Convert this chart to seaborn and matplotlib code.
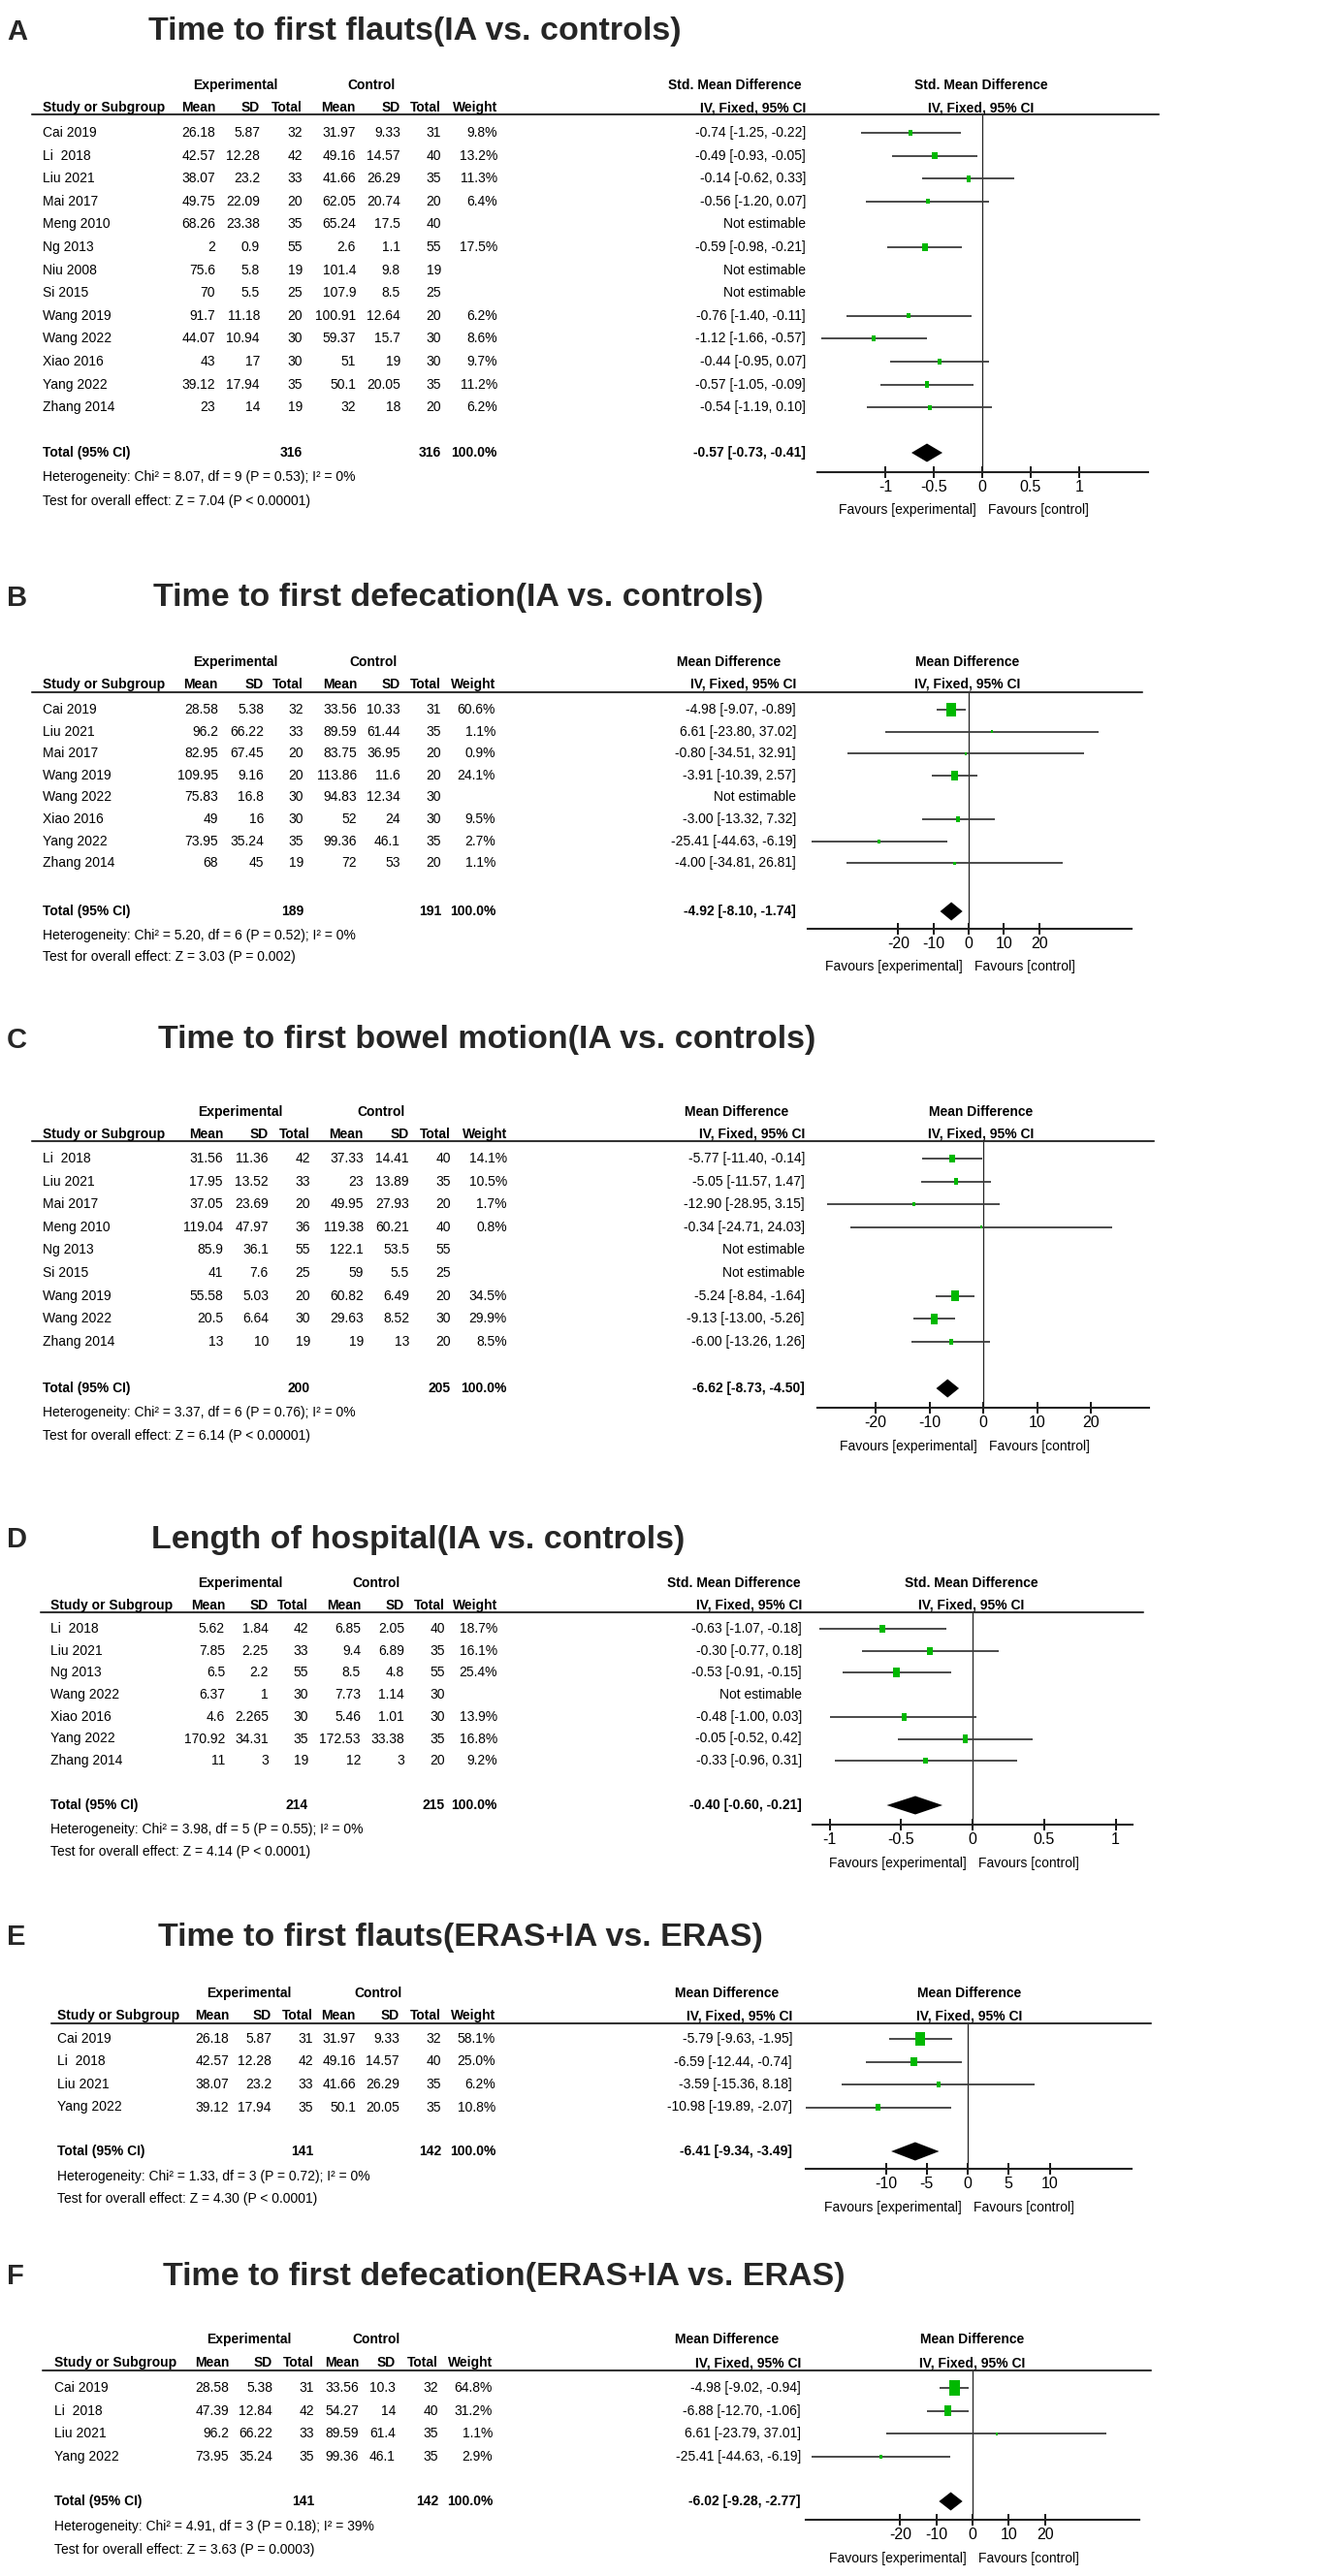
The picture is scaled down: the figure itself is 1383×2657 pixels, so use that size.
import numpy as np
import pandas as pd
import matplotlib
matplotlib.use('Agg')
import matplotlib.pyplot as plt
import matplotlib.transforms as mtransforms
from matplotlib import font_manager
import seaborn as sns

W, H = 1383, 2657

# ---------------- data ----------------
# A: Time to first flauts (IA vs. controls)
studies_a = ['Cai 2019', 'Li  2018', 'Liu 2021', 'Mai 2017', 'Meng 2010', 'Ng 2013', 'Niu 2008',
             'Si 2015', 'Wang 2019', 'Wang 2022', 'Xiao 2016', 'Yang 2022', 'Zhang 2014']
exp_mean_a = [26.18, 42.57, 38.07, 49.75, 68.26, 2, 75.6, 70, 91.7, 44.07, 43, 39.12, 23]
exp_sd_a = [5.87, 12.28, 23.2, 22.09, 23.38, 0.9, 5.8, 5.5, 11.18, 10.94, 17, 17.94, 14]
exp_n_a = [32, 42, 33, 20, 35, 55, 19, 25, 20, 30, 30, 35, 19]
ctl_mean_a = [31.97, 49.16, 41.66, 62.05, 65.24, 2.6, 101.4, 107.9, 100.91, 59.37, 51, 50.1, 32]
ctl_sd_a = [9.33, 14.57, 26.29, 20.74, 17.5, 1.1, 9.8, 8.5, 12.64, 15.7, 19, 20.05, 18]
ctl_n_a = [31, 40, 35, 20, 40, 55, 19, 25, 20, 30, 30, 35, 20]
weight_a = [9.8, 13.2, 11.3, 6.4, None, 17.5, None, None, 6.2, 8.6, 9.7, 11.2, 6.2]
est_a = [-0.74, -0.49, -0.14, -0.56, None, -0.59, None, None, -0.76, -1.12, -0.44, -0.57, -0.54]
lo_a = [-1.25, -0.93, -0.62, -1.20, None, -0.98, None, None, -1.40, -1.66, -0.95, -1.05, -1.19]
hi_a = [-0.22, -0.05, 0.33, 0.07, None, -0.21, None, None, -0.11, -0.57, 0.07, -0.09, 0.10]
total_a = (316, 316, -0.57, -0.73, -0.41)
het_a = 'Heterogeneity: Chi² = 8.07, df = 9 (P = 0.53); I² = 0%'
test_a = 'Test for overall effect: Z = 7.04 (P < 0.00001)'
ticks_a = [-1, -0.5, 0, 0.5, 1]
ticklabels_a = ['-1', '-0.5', '0', '0.5', '1']

# B: Time to first defecation (IA vs. controls)
studies_b = ['Cai 2019', 'Liu 2021', 'Mai 2017', 'Wang 2019', 'Wang 2022', 'Xiao 2016', 'Yang 2022', 'Zhang 2014']
exp_mean_b = [28.58, 96.2, 82.95, 109.95, 75.83, 49, 73.95, 68]
exp_sd_b = [5.38, 66.22, 67.45, 9.16, 16.8, 16, 35.24, 45]
exp_n_b = [32, 33, 20, 20, 30, 30, 35, 19]
ctl_mean_b = [33.56, 89.59, 83.75, 113.86, 94.83, 52, 99.36, 72]
ctl_sd_b = [10.33, 61.44, 36.95, 11.6, 12.34, 24, 46.1, 53]
ctl_n_b = [31, 35, 20, 20, 30, 30, 35, 20]
weight_b = [60.6, 1.1, 0.9, 24.1, None, 9.5, 2.7, 1.1]
est_b = [-4.98, 6.61, -0.80, -3.91, None, -3.00, -25.41, -4.00]
lo_b = [-9.07, -23.80, -34.51, -10.39, None, -13.32, -44.63, -34.81]
hi_b = [-0.89, 37.02, 32.91, 2.57, None, 7.32, -6.19, 26.81]
total_b = (189, 191, -4.92, -8.10, -1.74)
het_b = 'Heterogeneity: Chi² = 5.20, df = 6 (P = 0.52); I² = 0%'
test_b = 'Test for overall effect: Z = 3.03 (P = 0.002)'
ticks_b = [-20, -10, 0, 10, 20]
ticklabels_b = ['-20', '-10', '0', '10', '20']

# C: Time to first bowel motion (IA vs. controls)
studies_c = ['Li  2018', 'Liu 2021', 'Mai 2017', 'Meng 2010', 'Ng 2013', 'Si 2015', 'Wang 2019', 'Wang 2022', 'Zhang 2014']
exp_mean_c = [31.56, 17.95, 37.05, 119.04, 85.9, 41, 55.58, 20.5, 13]
exp_sd_c = [11.36, 13.52, 23.69, 47.97, 36.1, 7.6, 5.03, 6.64, 10]
exp_n_c = [42, 33, 20, 36, 55, 25, 20, 30, 19]
ctl_mean_c = [37.33, 23, 49.95, 119.38, 122.1, 59, 60.82, 29.63, 19]
ctl_sd_c = [14.41, 13.89, 27.93, 60.21, 53.5, 5.5, 6.49, 8.52, 13]
ctl_n_c = [40, 35, 20, 40, 55, 25, 20, 30, 20]
weight_c = [14.1, 10.5, 1.7, 0.8, None, None, 34.5, 29.9, 8.5]
est_c = [-5.77, -5.05, -12.90, -0.34, None, None, -5.24, -9.13, -6.00]
lo_c = [-11.40, -11.57, -28.95, -24.71, None, None, -8.84, -13.00, -13.26]
hi_c = [-0.14, 1.47, 3.15, 24.03, None, None, -1.64, -5.26, 1.26]
total_c = (200, 205, -6.62, -8.73, -4.50)
het_c = 'Heterogeneity: Chi² = 3.37, df = 6 (P = 0.76); I² = 0%'
test_c = 'Test for overall effect: Z = 6.14 (P < 0.00001)'
ticks_c = [-20, -10, 0, 10, 20]
ticklabels_c = ['-20', '-10', '0', '10', '20']

# D: Length of hospital (IA vs. controls)
studies_d = ['Li  2018', 'Liu 2021', 'Ng 2013', 'Wang 2022', 'Xiao 2016', 'Yang 2022', 'Zhang 2014']
exp_mean_d = [5.62, 7.85, 6.5, 6.37, 4.6, 170.92, 11]
exp_sd_d = [1.84, 2.25, 2.2, 1, 2.265, 34.31, 3]
exp_n_d = [42, 33, 55, 30, 30, 35, 19]
ctl_mean_d = [6.85, 9.4, 8.5, 7.73, 5.46, 172.53, 12]
ctl_sd_d = [2.05, 6.89, 4.8, 1.14, 1.01, 33.38, 3]
ctl_n_d = [40, 35, 55, 30, 30, 35, 20]
weight_d = [18.7, 16.1, 25.4, None, 13.9, 16.8, 9.2]
est_d = [-0.63, -0.30, -0.53, None, -0.48, -0.05, -0.33]
lo_d = [-1.07, -0.77, -0.91, None, -1.00, -0.52, -0.96]
hi_d = [-0.18, 0.18, -0.15, None, 0.03, 0.42, 0.31]
total_d = (214, 215, -0.40, -0.60, -0.21)
het_d = 'Heterogeneity: Chi² = 3.98, df = 5 (P = 0.55); I² = 0%'
test_d = 'Test for overall effect: Z = 4.14 (P < 0.0001)'
ticks_d = [-1, -0.5, 0, 0.5, 1]
ticklabels_d = ['-1', '-0.5', '0', '0.5', '1']

# E: Time to first flauts (ERAS+IA vs. ERAS)
studies_e = ['Cai 2019', 'Li  2018', 'Liu 2021', 'Yang 2022']
exp_mean_e = [26.18, 42.57, 38.07, 39.12]
exp_sd_e = [5.87, 12.28, 23.2, 17.94]
exp_n_e = [31, 42, 33, 35]
ctl_mean_e = [31.97, 49.16, 41.66, 50.1]
ctl_sd_e = [9.33, 14.57, 26.29, 20.05]
ctl_n_e = [32, 40, 35, 35]
weight_e = [58.1, 25.0, 6.2, 10.8]
est_e = [-5.79, -6.59, -3.59, -10.98]
lo_e = [-9.63, -12.44, -15.36, -19.89]
hi_e = [-1.95, -0.74, 8.18, -2.07]
total_e = (141, 142, -6.41, -9.34, -3.49)
het_e = 'Heterogeneity: Chi² = 1.33, df = 3 (P = 0.72); I² = 0%'
test_e = 'Test for overall effect: Z = 4.30 (P < 0.0001)'
ticks_e = [-10, -5, 0, 5, 10]
ticklabels_e = ['-10', '-5', '0', '5', '10']

# F: Time to first defecation (ERAS+IA vs. ERAS)
studies_f = ['Cai 2019', 'Li  2018', 'Liu 2021', 'Yang 2022']
exp_mean_f = [28.58, 47.39, 96.2, 73.95]
exp_sd_f = [5.38, 12.84, 66.22, 35.24]
exp_n_f = [31, 42, 33, 35]
ctl_mean_f = [33.56, 54.27, 89.59, 99.36]
ctl_sd_f = [10.3, 14, 61.4, 46.1]
ctl_n_f = [32, 40, 35, 35]
weight_f = [64.8, 31.2, 1.1, 2.9]
est_f = [-4.98, -6.88, 6.61, -25.41]
lo_f = [-9.02, -12.70, -23.79, -44.63]
hi_f = [-0.94, -1.06, 37.01, -6.19]
total_f = (141, 142, -6.02, -9.28, -2.77)
het_f = 'Heterogeneity: Chi² = 4.91, df = 3 (P = 0.18); I² = 39%'
test_f = 'Test for overall effect: Z = 3.63 (P = 0.0003)'
ticks_f = [-20, -10, 0, 10, 20]
ticklabels_f = ['-20', '-10', '0', '10', '20']

panels = [
    ('A', 'Time to first flauts(IA vs. controls)', 'Std. Mean Difference',
     studies_a, exp_mean_a, exp_sd_a, exp_n_a, ctl_mean_a, ctl_sd_a, ctl_n_a,
     weight_a, est_a, lo_a, hi_a, total_a, het_a, test_a, ticks_a, ticklabels_a),
    ('B', 'Time to first defecation(IA vs. controls)', 'Mean Difference',
     studies_b, exp_mean_b, exp_sd_b, exp_n_b, ctl_mean_b, ctl_sd_b, ctl_n_b,
     weight_b, est_b, lo_b, hi_b, total_b, het_b, test_b, ticks_b, ticklabels_b),
    ('C', 'Time to first bowel motion(IA vs. controls)', 'Mean Difference',
     studies_c, exp_mean_c, exp_sd_c, exp_n_c, ctl_mean_c, ctl_sd_c, ctl_n_c,
     weight_c, est_c, lo_c, hi_c, total_c, het_c, test_c, ticks_c, ticklabels_c),
    ('D', 'Length of hospital(IA vs. controls)', 'Std. Mean Difference',
     studies_d, exp_mean_d, exp_sd_d, exp_n_d, ctl_mean_d, ctl_sd_d, ctl_n_d,
     weight_d, est_d, lo_d, hi_d, total_d, het_d, test_d, ticks_d, ticklabels_d),
    ('E', 'Time to first flauts(ERAS+IA vs. ERAS)', 'Mean Difference',
     studies_e, exp_mean_e, exp_sd_e, exp_n_e, ctl_mean_e, ctl_sd_e, ctl_n_e,
     weight_e, est_e, lo_e, hi_e, total_e, het_e, test_e, ticks_e, ticklabels_e),
    ('F', 'Time to first defecation(ERAS+IA vs. ERAS)', 'Mean Difference',
     studies_f, exp_mean_f, exp_sd_f, exp_n_f, ctl_mean_f, ctl_sd_f, ctl_n_f,
     weight_f, est_f, lo_f, hi_f, total_f, het_f, test_f, ticks_f, ticklabels_f),
]

# ---------------- layout (pixels) ----------------
layouts = [
    dict(title_x=153, title_y=33, h1=88, h2=111, ul=118, y0=137, pitch=23.6, total=467, het=492, test=517,
         axis=487, fav=526, study_x=44, cols=[222, 268, 312, 367, 413, 455, 513], exp_c=243, ctl_c=383,
         eff_c=758, ci_r=831, plot_c=1012, ul_x=(33, 1195), zero=1013, scale=100, ax_x=(843, 1184)),
    dict(title_x=158, title_y=617, h1=683, h2=706, ul=714, y0=732, pitch=22.6, total=940, het=965, test=987,
         axis=958, fav=997, study_x=44, cols=[225, 272, 313, 368, 413, 455, 511], exp_c=243, ctl_c=385,
         eff_c=752, ci_r=821, plot_c=998, ul_x=(33, 1178), zero=999, scale=3.63, ax_x=(833, 1167)),
    dict(title_x=163, title_y=1073, h1=1147, h2=1170, ul=1177, y0=1195, pitch=23.6, total=1432, het=1457, test=1481,
         axis=1452, fav=1492, study_x=44, cols=[230, 277, 320, 375, 422, 465, 523], exp_c=248, ctl_c=393,
         eff_c=760, ci_r=830, plot_c=1012, ul_x=(33, 1190), zero=1014, scale=5.55, ax_x=(843, 1185)),
    dict(title_x=156, title_y=1588, h1=1633, h2=1656, ul=1663, y0=1680, pitch=22.7, total=1862, het=1887, test=1910,
         axis=1882, fav=1922, study_x=52, cols=[232, 277, 318, 372, 417, 459, 513], exp_c=248, ctl_c=388,
         eff_c=757, ci_r=827, plot_c=1002, ul_x=(42, 1179), zero=1003, scale=147.5, ax_x=(838, 1168)),
    dict(title_x=163, title_y=1998, h1=2056, h2=2079, ul=2087, y0=2103, pitch=23.5, total=2219, het=2245, test=2268,
         axis=2237, fav=2277, study_x=59, cols=[236, 280, 323, 367, 412, 455, 511], exp_c=257, ctl_c=390,
         eff_c=750, ci_r=817, plot_c=1000, ul_x=(53, 1187), zero=998, scale=8.45, ax_x=(831, 1167)),
    dict(title_x=168, title_y=2348, h1=2413, h2=2437, ul=2445, y0=2463, pitch=23.7, total=2580, het=2606, test=2630,
         axis=2599, fav=2639, study_x=56, cols=[236, 281, 324, 370, 408, 452, 508], exp_c=257, ctl_c=388,
         eff_c=750, ci_r=826, plot_c=1003, ul_x=(44, 1187), zero=1003, scale=3.73, ax_x=(831, 1175)),
]

sns.set_theme(style='white')
names = {f.name for f in font_manager.fontManager.ttflist}
if 'Liberation Sans Narrow' in names:
    tfont, tsize = 'Liberation Sans Narrow', 11.5
else:
    tfont, tsize = 'Liberation Sans', 10
plt.rcParams['font.family'] = [tfont, 'DejaVu Sans']
plt.rcParams['axes.unicode_minus'] = False

GREEN = '#00b800'
LINE = '#3c3c3c'
verts = [(-0.7, -1), (0.7, -1), (0.7, 1), (-0.7, 1), (-0.7, -1)]

fig = plt.figure(figsize=(W / 100, H / 100), dpi=100)


def fmt(v):
    return '{:g}'.format(v)


def ci_text(e, l, h):
    return '{:.2f} [{:.2f}, {:.2f}]'.format(e, l, h)


for p, lay in zip(panels, layouts):
    (letter, title, eff_name, studies, em, es, en, cm, cs, cn,
     wt, est, lo, hi, total, het, test, ticks, ticklabels) = p
    y0, pitch = lay['y0'], lay['pitch']

    def row(px):
        return (px - y0) / pitch

    x0, x1 = lay['ax_x']
    ax = fig.add_axes([x0 / W, 1 - lay['axis'] / H, (x1 - x0) / W, (lay['axis'] - lay['ul']) / H])
    tr = mtransforms.blended_transform_factory(fig.transFigure, ax.transData)

    def txt(xpx, y, s, ha='left', bold=False, size=None):
        ax.text(xpx / W, y, s, transform=tr, ha=ha, va='center',
                fontsize=size or tsize, fontweight='bold' if bold else 'normal', color='black')

    # title + letter
    fig.text(7 / W, 1 - lay['title_y'] / H, letter, ha='left', va='center', fontsize=21,
             fontweight='bold', family='Liberation Sans')
    fig.text(lay['title_x'] / W, 1 - lay['title_y'] / H, title, ha='left', va='center', fontsize=24.5,
             fontweight='bold', family='Liberation Sans')

    # headers
    c = lay['cols']
    txt(lay['exp_c'], row(lay['h1']), 'Experimental', 'center', True)
    txt(lay['ctl_c'], row(lay['h1']), 'Control', 'center', True)
    txt(lay['eff_c'], row(lay['h1']), eff_name, 'center', True)
    txt(lay['plot_c'], row(lay['h1']), eff_name, 'center', True)
    h2 = row(lay['h2'])
    txt(lay['study_x'], h2, 'Study or Subgroup', 'left', True)
    for xr, lab in zip(c, ['Mean', 'SD', 'Total', 'Mean', 'SD', 'Total', 'Weight']):
        txt(xr, h2, lab, 'right', True)
    txt(lay['ci_r'], h2, 'IV, Fixed, 95% CI', 'right', True)
    txt(lay['plot_c'], h2, 'IV, Fixed, 95% CI', 'center', True)
    ax.plot([lay['ul_x'][0] / W, lay['ul_x'][1] / W], [row(lay['ul'])] * 2, transform=tr,
            color='#333333', lw=1.5, clip_on=False)

    # study rows
    for i, s in enumerate(studies):
        txt(lay['study_x'], i, s)
        for xr, v in zip(c[:6], [em[i], es[i], en[i], cm[i], cs[i], cn[i]]):
            txt(xr, i, fmt(v), 'right')
        if wt[i] is not None:
            txt(c[6], i, '{:.1f}%'.format(wt[i]), 'right')
            txt(lay['ci_r'], i, ci_text(est[i], lo[i], hi[i]), 'right')
        else:
            txt(lay['ci_r'], i, 'Not estimable', 'right')

    # total rows
    ty = row(lay['total'])
    txt(lay['study_x'], ty, 'Total (95% CI)', 'left', True)
    txt(c[2], ty, str(total[0]), 'right', True)
    txt(c[5], ty, str(total[1]), 'right', True)
    txt(c[6], ty, '100.0%', 'right', True)
    txt(lay['ci_r'], ty, ci_text(total[2], total[3], total[4]), 'right', True)
    txt(lay['study_x'], row(lay['het']), het)
    txt(lay['study_x'], row(lay['test']), test)

    # forest plot
    df = pd.DataFrame({'row': np.arange(len(studies)), 'est': est, 'lo': lo, 'hi': hi,
                       'w': wt}).dropna().astype(float)
    ax.hlines(df['row'], df['lo'], df['hi'], color=LINE, lw=1.3, zorder=2)
    sns.scatterplot(data=df, x='est', y='row', size='w', sizes=(3, 190), size_norm=(0, 100),
                    marker=verts, color=GREEN, linewidth=0, legend=False, ax=ax, zorder=3)
    hh = 9.5 / pitch
    ax.fill([total[3], total[2], total[4], total[2]], [ty, ty - hh, ty, ty + hh],
            color='black', lw=0, zorder=3)
    ax.axvline(0, color='#222222', lw=0.9, zorder=1)

    ax.set_xlim((x0 - lay['zero']) / lay['scale'], (x1 - lay['zero']) / lay['scale'])
    ax.set_ylim(row(lay['axis']), row(lay['ul']))
    ax.set_xlabel('')
    ax.set_ylabel('')
    ax.set_yticks([])
    ax.set_xticks(ticks)
    ax.set_xticklabels(ticklabels)
    ax.tick_params(axis='x', direction='inout', length=8, width=1.3, pad=2,
                   labelsize=tsize * 1.15, colors='black', bottom=True)
    for side in ['left', 'right', 'top']:
        ax.spines[side].set_visible(False)
    ax.spines['bottom'].set_color('#222222')
    ax.spines['bottom'].set_linewidth(1.5)
    ax.patch.set_alpha(0)

    # favours labels
    fy = row(lay['fav'])
    txt(lay['zero'] - 6, fy, 'Favours [experimental]', 'right')
    txt(lay['zero'] + 6, fy, 'Favours [control]', 'left')

fig.savefig('out.png', dpi=100, facecolor='white')
